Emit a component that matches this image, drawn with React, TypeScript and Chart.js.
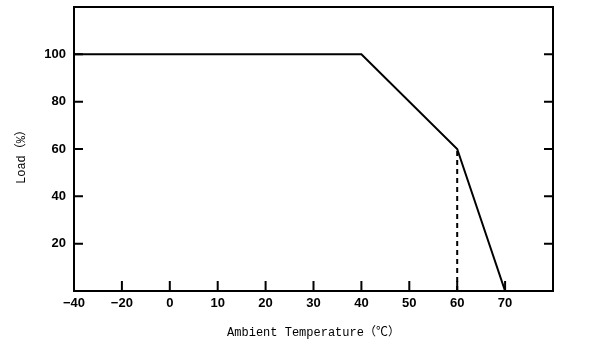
import React, { useEffect, useRef } from "react";
import { Chart, registerables } from "chart.js";

Chart.register(...registerables);

const xLabels = ["−40", "−20", "0", "10", "20", "30", "40", "50", "60", "70", ""];
const loadCurveX = ["−40", "40", "60", "70"];
const loadCurveY = [100, 100, 60, 0];
const dashX = ["60", "60"];
const dashY = [0, 60];
const yTicks = [20, 40, 60, 80, 100];
const xTitle = "Ambient Temperature（℃）";
const yTitle = "Load（%）";

const framePlugin = {
  id: "frame",
  afterDraw(chart: any) {
    const { ctx, chartArea } = chart;
    const { left, right, top, bottom } = chartArea;
    const xs = chart.scales.x;
    const ys = chart.scales.y;
    ctx.save();
    ctx.strokeStyle = "#000";
    ctx.lineWidth = 2;
    ctx.strokeRect(left, top, right - left, bottom - top);
    ctx.beginPath();
    for (let i = 1; i < xLabels.length - 1; i++) {
      const px = xs.getPixelForValue(i);
      ctx.moveTo(px, bottom);
      ctx.lineTo(px, bottom - 10);
    }
    yTicks.forEach((v) => {
      const py = ys.getPixelForValue(v);
      ctx.moveTo(left, py);
      ctx.lineTo(left + 9, py);
      ctx.moveTo(right, py);
      ctx.lineTo(right - 9, py);
    });
    ctx.stroke();

    ctx.fillStyle = "#000";
    ctx.font = "12px 'Liberation Mono', 'Noto Sans CJK SC', monospace";
    ctx.textAlign = "center";
    ctx.textBaseline = "middle";
    ctx.fillText(xTitle, (left + right) / 2, 333);
    ctx.translate(22, 154);
    ctx.rotate(-Math.PI / 2);
    ctx.fillText(yTitle, 0, 0);
    ctx.restore();
  },
};

export default function App() {
  const ref = useRef<HTMLCanvasElement | null>(null);
  useEffect(() => {
    if (!ref.current) return;
    const chart = new Chart(ref.current, {
      type: "line",
      data: {
        labels: xLabels,
        datasets: [
          {
            data: loadCurveX.map((x, i) => ({ x, y: loadCurveY[i] })),
            borderColor: "#000",
            borderWidth: 2,
            pointRadius: 0,
            tension: 0,
          },
          {
            data: dashX.map((x, i) => ({ x, y: dashY[i] })),
            borderColor: "#000",
            borderWidth: 2,
            borderDash: [5, 4],
            pointRadius: 0,
          },
        ],
      },
      options: {
        animation: false,
        responsive: false,
        maintainAspectRatio: false,
        layout: { padding: { left: 0, right: 43, top: 7, bottom: 0 } },
        plugins: { legend: { display: false }, tooltip: { enabled: false } },
        scales: {
          x: {
            type: "category",
            offset: false,
            grid: { display: false, drawTicks: false },
            border: { display: false },
            ticks: {
              color: "#000",
              padding: 5,
              autoSkip: false,
              maxRotation: 0,
              font: { family: "'Liberation Sans', Arial, sans-serif", size: 13, weight: "bold" },
            },
            afterFit: (s: any) => {
              s.height = 60;
              s.paddingLeft = 0;
              s.paddingRight = 0;
            },
          },
          y: {
            min: 0,
            max: 120,
            grid: { display: false, drawTicks: false },
            border: { display: false },
            ticks: {
              stepSize: 20,
              color: "#000",
              padding: 8,
              callback: (v: any) => (yTicks.includes(Number(v)) ? String(v) : null),
              font: { family: "'Liberation Sans', Arial, sans-serif", size: 13, weight: "bold" },
            },
            afterFit: (s: any) => {
              s.width = 74;
              s.paddingTop = 0;
              s.paddingBottom = 0;
            },
          },
        },
      },
      plugins: [framePlugin],
    });
    return () => chart.destroy();
  }, []);
  return (
    <div style={{ position: "fixed", left: 0, top: 0, width: 596, height: 351, background: "#fff" }}>
      <canvas ref={ref} width={596} height={351} />
    </div>
  );
}
